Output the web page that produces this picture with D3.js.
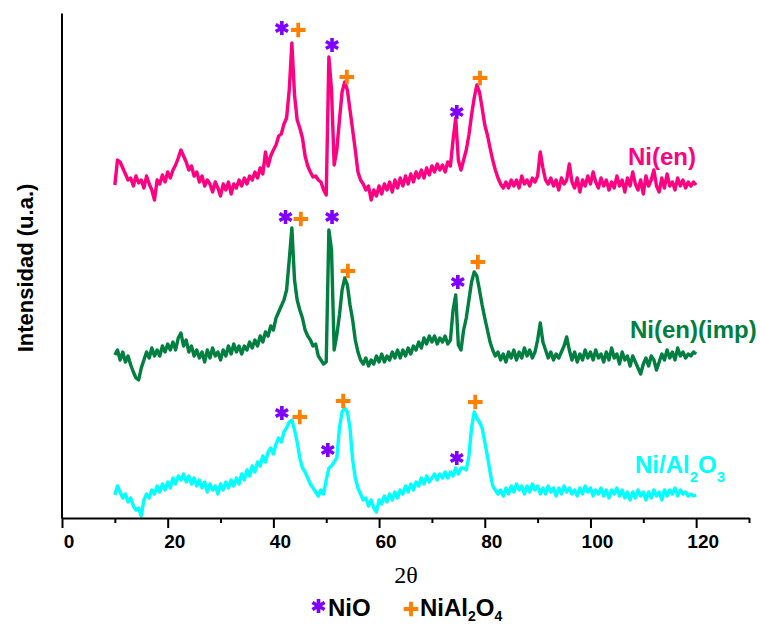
<!DOCTYPE html>
<html>
<head>
<meta charset="utf-8">
<script src="https://cdn.jsdelivr.net/npm/d3@7"></script>
<style>
  html, body { margin: 0; padding: 0; background: #fff; }
  svg { display: block; }
</style>
</head>
<body>
<script>
// ---------------- DATA ----------------
const twoTheta = [
  10,10.5,11,11.5,12,12.5,13,13.5,14,14.5,
  15,15.5,16,16.5,17,17.5,18,18.5,19,19.5,
  20,20.5,21,21.5,22,22.5,23,23.5,24,24.5,
  25,25.5,26,26.5,27,27.5,28,28.5,29,29.5,
  30,30.5,31,31.5,32,32.5,33,33.5,34,34.5,
  35,35.5,36,36.5,37,37.5,38,38.5,39,39.5,
  40,40.5,41,41.5,42,42.5,43,43.5,44,44.5,
  45,45.5,46,46.5,47,47.5,48,48.5,49,49.5,
  50,50.5,51,51.5,52,52.5,53,53.5,54,54.5,
  55,55.5,56,56.5,57,57.5,58,58.5,59,59.5,
  60,60.5,61,61.5,62,62.5,63,63.5,64,64.5,
  65,65.5,66,66.5,67,67.5,68,68.5,69,69.5,
  70,70.5,71,71.5,72,72.5,73,73.5,74,74.5,
  75,75.5,76,76.5,77,77.5,78,78.5,79,79.5,
  80,80.5,81,81.5,82,82.5,83,83.5,84,84.5,
  85,85.5,86,86.5,87,87.5,88,88.5,89,89.5,
  90,90.5,91,91.5,92,92.5,93,93.5,94,94.5,
  95,95.5,96,96.5,97,97.5,98,98.5,99,99.5,
  100,100.5,101,101.5,102,102.5,103,103.5,104,104.5,
  105,105.5,106,106.5,107,107.5,108,108.5,109,109.5,
  110,110.5,111,111.5,112,112.5,113,113.5,114,114.5,
  115,115.5,116,116.5,117,117.5,118,118.5,119,119.5,
  120
];

// Ni(en) (stacked, arbitrary units)
const niEn = [
  333,358,356,350,344,338,340,332,342,335,
  338,330,342,334,328,318,338,334,343,336,
  346,340,348,353,360,368,362,356,348,352,
  342,346,336,342,332,338,334,326,336,330,
  322,334,328,336,324,334,330,338,332,340,
  334,342,338,346,340,350,344,366,352,362,
  368,373,382,384,394,400,428,475,423,398,
  390,380,362,352,346,341,342,338,336,328,
  323,461,428,353,368,398,426,436,428,408,
  388,368,346,338,334,328,332,318,328,322,
  332,324,334,328,336,326,338,330,340,332,
  342,334,344,336,346,340,348,340,350,343,
  352,346,354,348,353,346,356,352,378,400,
  358,348,358,368,383,403,420,433,426,410,
  393,383,370,358,348,340,334,330,336,330,
  338,332,338,330,342,334,338,332,340,336,
  342,366,350,338,334,340,332,338,328,340,
  334,338,354,336,330,340,326,338,332,342,
  334,346,336,330,340,332,338,328,336,330,
  342,332,338,326,340,332,346,334,328,338,
  324,342,332,338,348,332,326,340,330,344,
  332,336,328,340,332,338,330,336,332,336,
  333
];

// Ni(en)(imp)
const niEnImp = [
  163,168,158,166,156,162,153,146,140,138,
  150,158,166,160,170,162,168,162,172,166,
  174,168,176,168,180,185,172,178,166,172,
  162,168,160,166,156,168,160,170,162,166,
  158,168,162,172,164,174,166,172,164,172,
  168,176,170,178,172,182,176,186,182,192,
  188,200,206,212,218,228,258,290,238,218,
  208,200,188,182,178,172,174,162,158,154,
  156,288,268,168,183,203,228,240,233,213,
  198,178,166,158,154,160,152,158,154,162,
  156,164,156,162,158,166,160,168,160,168,
  162,170,164,172,168,176,170,180,174,182,
  176,182,174,180,176,182,174,178,208,223,
  173,168,188,200,218,236,246,242,228,213,
  200,188,176,168,162,166,158,164,156,166,
  160,168,158,166,160,170,162,168,160,166,
  178,195,176,168,160,166,158,164,160,166,
  172,181,168,158,166,156,164,158,168,160,
  166,158,168,160,164,156,166,158,170,160,
  164,154,166,158,162,152,162,156,150,144,
  154,160,152,162,158,148,156,164,158,168,
  160,166,158,170,162,166,160,164,162,166,
  164
];

// Ni/Al2O3
const niAl2O3 = [
  23,32,26,20,24,16,20,12,8,10,
  2,18,24,20,28,24,32,26,34,28,
  36,30,40,34,42,38,44,36,42,34,
  40,32,38,30,36,26,34,28,32,24,
  34,28,36,30,38,32,40,34,44,38,
  48,42,52,46,56,52,62,56,66,70,
  64,74,80,76,86,90,96,98,88,76,
  60,50,46,40,34,30,26,22,28,24,
  38,50,52,56,60,90,106,110,106,90,
  58,40,30,24,18,20,12,18,10,6,
  18,14,22,16,24,18,26,20,28,24,
  32,26,34,28,36,32,40,34,42,36,
  40,44,38,44,40,46,40,46,42,50,
  44,50,50,48,62,90,106,100,96,90,
  76,62,46,32,28,24,28,22,30,24,
  32,26,34,28,32,24,32,26,34,28,
  32,24,30,24,32,26,30,22,30,24,
  32,26,30,24,28,22,30,24,32,26,
  30,22,28,24,30,22,28,20,28,24,
  30,22,28,20,26,18,26,20,28,22,
  26,18,26,20,28,22,26,18,28,22,
  28,24,30,22,28,24,26,22,24,22,
  23
];

const seriesNames = ["Ni(en)", "Ni(en)(imp)", "Ni/Al2O3"];

// Phase markers: [2θ, intensity]
const niEnNiO      = [[41.6, 490], [51.1, 473], [74.7, 406]];
const niEnSpinel   = [[44.7, 488], [53.9, 441], [79.1, 440]];
const impNiO       = [[42.3, 301], [51.1, 301], [74.9, 236]];
const impSpinel    = [[45.2, 299], [54.1, 247], [78.7, 256]];
const aluNiO       = [[41.6, 105], [50.3, 68],  [74.7, 60]];
const aluSpinel    = [[45.0, 101], [53.2, 117], [78.2, 116]];

const xTicks = [0,10,20,30,40,50,60,70,80,90,100,110,120,130];
const xLabelTicks = [0,20,40,60,80,100,120];

// ---------------- CHART ----------------
const W = 760, H = 626;
const colors = { pink: "#ff0080", green: "#007f40", cyan: "#00ffff", nio: "#8000ff", spinel: "#ff8000" };

const svg = d3.select("body").append("svg").attr("width", W).attr("height", H);

const x = d3.scaleLinear().domain([0, 130]).range([62, 749]);
const y = d3.scaleLinear().domain([0, 505]).range([518, 13]);

const line = d3.line().x(d => x(d[0])).y(d => y(d[1]));

const series = [
  { name: seriesNames[0], values: niEn, color: colors.pink },
  { name: seriesNames[1], values: niEnImp, color: colors.green },
  { name: seriesNames[2], values: niAl2O3, color: colors.cyan }
];

series.forEach(s => {
  svg.append("path")
    .datum(twoTheta.map((t, i) => [t, s.values[i]]))
    .attr("fill", "none")
    .attr("stroke", s.color)
    .attr("stroke-width", 3.4)
    .attr("stroke-linejoin", "round")
    .attr("d", line);
});

// axes
const xAxis = d3.axisBottom(x)
  .tickValues(xTicks)
  .tickSize(10)
  .tickSizeOuter(0)
  .tickFormat(d => xLabelTicks.includes(d) ? d : "");
const gx = svg.append("g").attr("transform", `translate(0,${y(0)})`).call(xAxis);
gx.select(".domain").attr("stroke", "#000").attr("stroke-width", 2);
gx.selectAll(".tick line").attr("stroke", "#000").attr("stroke-width", 2)
  .attr("y2", d => xLabelTicks.includes(d) ? 10 : 5);
gx.selectAll(".tick text")
  .attr("fill", "#000")
  .attr("font-family", "Liberation Sans, Arial, sans-serif")
  .attr("font-weight", "bold")
  .attr("font-size", 19)
  .attr("y", 30).attr("dy", 0).attr("dx", 6.5);

const yAxis = d3.axisLeft(y).tickValues([]).tickSizeOuter(0);
const gy = svg.append("g").attr("transform", `translate(${x(0) - 0.5},0)`).call(yAxis);
gy.select(".domain").attr("stroke", "#000").attr("stroke-width", 2);

// markers
const sym = {
  nio: d3.symbol(d3.symbolAsterisk, 140)(),
  spinel: d3.symbol(d3.symbolPlus, 72)()
};
function drawMarkers(pts, kind) {
  svg.append("g").selectAll("path").data(pts).join("path")
    .attr("d", sym[kind])
    .attr("transform", d => `translate(${x(d[0])},${y(d[1])})`)
    .attr("fill", "none")
    .attr("stroke", kind === "nio" ? colors.nio : colors.spinel)
    .attr("stroke-width", kind === "nio" ? 3.6 : 3.8);
}
drawMarkers(niEnNiO, "nio");
drawMarkers(niEnSpinel, "spinel");
drawMarkers(impNiO, "nio");
drawMarkers(impSpinel, "spinel");
drawMarkers(aluNiO, "nio");
drawMarkers(aluSpinel, "spinel");

// series labels
const sans = "Liberation Sans, Arial, sans-serif";
svg.append("text").attr("x", 628).attr("y", 165)
  .attr("font-family", sans).attr("font-weight", "bold").attr("font-size", 24)
  .attr("fill", colors.pink).text(seriesNames[0]);
svg.append("text").attr("x", 630).attr("y", 338)
  .attr("font-family", sans).attr("font-weight", "bold").attr("font-size", 24)
  .attr("fill", colors.green).text(seriesNames[1]);
const t3 = svg.append("text").attr("x", 635).attr("y", 473)
  .attr("font-family", sans).attr("font-weight", "bold").attr("font-size", 24)
  .attr("fill", colors.cyan);
t3.append("tspan").text("Ni/Al");
t3.append("tspan").attr("dy", 9).attr("font-size", 15).text("2");
t3.append("tspan").attr("dy", -9).text("O");
t3.append("tspan").attr("dy", 9).attr("font-size", 15).text("3");

// axis titles
svg.append("text").attr("x", 406).attr("y", 583).attr("text-anchor", "middle")
  .attr("font-family", "Liberation Serif, Times New Roman, serif").attr("font-size", 24)
  .attr("fill", "#000").text("2θ");
svg.append("text")
  .attr("transform", "translate(33,268) rotate(-90)")
  .attr("text-anchor", "middle")
  .attr("font-family", sans).attr("font-weight", "bold").attr("font-size", 22)
  .attr("fill", "#000").text("Intensidad (u.a.)");

// legend
svg.append("path").attr("d", sym.nio).attr("transform", "translate(318.5,606)")
  .attr("fill", "none").attr("stroke", colors.nio).attr("stroke-width", 3.6);
svg.append("text").attr("x", 328).attr("y", 616)
  .attr("font-family", sans).attr("font-weight", "bold").attr("font-size", 24)
  .attr("fill", "#000").text("NiO");
svg.append("path").attr("d", sym.spinel).attr("transform", "translate(411,609)")
  .attr("fill", "none").attr("stroke", colors.spinel).attr("stroke-width", 3.8);
const lg = svg.append("text").attr("x", 420).attr("y", 616)
  .attr("font-family", sans).attr("font-weight", "bold").attr("font-size", 24)
  .attr("fill", "#000");
lg.append("tspan").text("NiAl");
lg.append("tspan").attr("dy", 5).attr("font-size", 14).text("2");
lg.append("tspan").attr("dy", -5).text("O");
lg.append("tspan").attr("dy", 5).attr("font-size", 14).text("4");
</script>
</body>
</html>
